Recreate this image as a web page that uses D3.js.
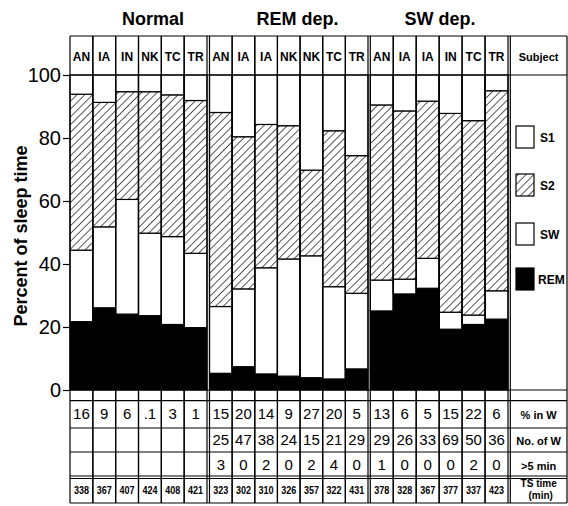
<!DOCTYPE html>
<html><head><meta charset="utf-8">
<script src="https://cdn.jsdelivr.net/npm/d3@7"></script>
<style>
body{margin:0;background:#fff}
svg{display:block}
text{font-family:"Liberation Sans",Arial,Helvetica,sans-serif;fill:#000}
</style>
</head><body>
<svg id="c" width="568" height="506"></svg>
<script>
// ---------------- data ----------------
const groups = ["Normal", "REM dep.", "SW dep."];
const subjectsNormal = ["AN","IA","IN","NK","TC","TR"];
const subjectsREM = ["AN","IA","IA","NK","NK","TC","TR"];
const subjectsSW = ["AN","IA","IA","IN","TC","TR"];
const stageKeys = ["REM","SW","S2","S1"];
const legendKeys = ["S1","S2","SW","REM"];
// percent of sleep time, column order: Normal(6), REM dep.(7), SW dep.(6)
const remValues = [21.7,26.1,24.1,23.6,20.8,19.8, 5.3,7.4,5.1,4.4,3.9,3.5,6.7, 25.1,30.5,32.3,19.3,20.8,22.5];
const swValues  = [22.7,25.7,36.4,26.2,27.9,23.6, 21.2,24.7,33.7,37.2,38.7,29.3,24.0, 9.8,4.7,9.5,5.4,3.0,9.0];
const s2Values  = [49.5,39.5,34.2,44.9,45.0,48.5, 61.6,48.3,45.5,42.3,27.2,49.5,43.7, 55.6,53.4,49.9,63.1,61.7,63.5];
const s1Values  = [6.1,8.7,5.3,5.3,6.3,8.1, 11.9,19.6,15.7,16.1,30.2,17.7,25.6, 9.5,11.4,8.3,12.2,14.5,5.0];
const pctInW  = ["16","9","6",".1","3","1", "15","20","14","9","27","20","5", "13","6","5","15","22","6"];
const noOfW   = ["","","","","","", "25","47","38","24","15","21","29", "29","26","33","69","50","36"];
const over5   = ["","","","","","", "3","0","2","0","2","4","0", "1","0","0","0","2","0"];
const tsTime  = ["338","367","407","424","408","421", "323","302","310","326","357","322","431", "378","328","367","377","337","423"];
const rowLabels = ["% in W","No. of W",">5 min"];
const yTicks = [0,20,40,60,80,100];
const yTitle = "Percent of sleep time";

// ---------------- layout ----------------
const svg = d3.select("#c");
const y = d3.scaleLinear().domain([0,100]).range([390,75]);
const sectionRanges = [[70,207],[209.5,368],[370.3,508]];
const legendRange = [510.3,567];
const titleX = [153,297.5,440];
const tableTop = 36, tableBottom = 503;
const rowLines = [400.7,428,452,476,478.5];
const rowBaselines = [419,445,469.5,494];

const sections = [subjectsNormal, subjectsREM, subjectsSW];
const columns = [];
sections.forEach((subs, g) => {
  const xb = d3.scaleBand().domain(d3.range(subs.length)).range(sectionRanges[g]).paddingInner(0).paddingOuter(0);
  subs.forEach((s, j) => {
    const i = columns.length;
    columns.push({i, group:g, subject:s, x0:xb(j), x1:xb(j)+xb.bandwidth(),
      REM:remValues[i], SW:swValues[i], S2:s2Values[i], S1:s1Values[i]});
  });
});

// hatch pattern
const defs = svg.append("defs");
defs.append("pattern").attr("id","hatch").attr("patternUnits","userSpaceOnUse")
  .attr("width",5.5).attr("height",10).attr("patternTransform","rotate(45)")
  .call(p => {
    p.append("rect").attr("width",5.5).attr("height",10).attr("fill","#fff");
    p.append("line").attr("x1",0).attr("y1",0).attr("x2",0).attr("y2",10)
      .attr("stroke","#000").attr("stroke-width",1.3);
  });
const fills = {REM:"#000", SW:"#fff", S2:"url(#hatch)", S1:"#fff"};

// stacked bars
const stacked = d3.stack().keys(stageKeys)(columns);
svg.append("g").selectAll("g").data(stacked).join("g")
  .attr("fill", d => fills[d.key])
  .selectAll("rect").data(d => d).join("rect")
  .attr("x", d => d.data.x0)
  .attr("width", d => d.data.x1 - d.data.x0)
  .attr("y", d => y(d[1]))
  .attr("height", d => y(d[0]) - y(d[1]))
  .attr("stroke","#000").attr("stroke-width",1.2);

// grid lines
const grid = svg.append("g").attr("stroke","#000").attr("stroke-width",1.2);
const vx = [];
columns.forEach(c => { vx.push(c.x0, c.x1); });
vx.push(legendRange[0], legendRange[1]);
grid.selectAll("line.v").data(vx).join("line").attr("class","v")
  .attr("x1",d=>d).attr("x2",d=>d).attr("y1",tableTop).attr("y2",tableBottom);
const hLines = [tableTop, y(100), y(0), ...rowLines, tableBottom];
grid.selectAll("line.h").data(hLines).join("line").attr("class","h")
  .attr("x1",70).attr("x2",legendRange[1]).attr("y1",d=>d).attr("y2",d=>d);

// y axis
const ax = svg.append("g").attr("transform","translate(70,0)")
  .call(d3.axisLeft(y).tickValues(yTicks).tickSize(7).tickPadding(2));
ax.select(".domain").remove();
ax.selectAll(".tick line").attr("stroke","#000").attr("stroke-width",1.2);
ax.selectAll(".tick text").attr("font-size",20).attr("font-family","Liberation Sans, Arial, sans-serif").attr("fill","#000");

svg.append("text").attr("transform","translate(27,236) rotate(-90)")
  .attr("text-anchor","middle").attr("font-size",18).attr("font-weight","bold").text(yTitle);

// group titles
svg.selectAll("text.title").data(groups).join("text").attr("class","title")
  .attr("x",(d,i)=>titleX[i]).attr("y",25).attr("text-anchor","middle")
  .attr("font-size",18).attr("font-weight","bold").text(d=>d);

// subject header
svg.selectAll("text.subj").data(columns).join("text").attr("class","subj")
  .attr("x",d=>(d.x0+d.x1)/2).attr("y",61).attr("text-anchor","middle")
  .attr("font-size",12).attr("font-weight","bold").text(d=>d.subject);
const lcx = (legendRange[0]+legendRange[1])/2;
svg.append("text").attr("x",lcx).attr("y",61).attr("text-anchor","middle")
  .attr("font-size",11).attr("font-weight","bold").text("Subject");

// legend
const legY = {S1:126, S2:174, SW:223, REM:268};
const lg = svg.append("g");
legendKeys.forEach(k => {
  lg.append("rect").attr("x",516).attr("y",legY[k]).attr("width",18).attr("height",22)
    .attr("fill",fills[k]).attr("stroke","#000").attr("stroke-width",1.2);
  lg.append("text").attr("x",k==="REM"?538:540).attr("y",legY[k]+15.5)
    .attr("font-size",12).attr("font-weight","bold").text(k);
});

// table rows
const rows = [pctInW, noOfW, over5];
rows.forEach((vals, r) => {
  svg.append("g").selectAll("text").data(columns).join("text")
    .attr("x",d=>(d.x0+d.x1)/2).attr("y",rowBaselines[r]).attr("text-anchor","middle")
    .attr("font-size",15).text(d=>vals[d.i]);
  svg.append("text").attr("x",lcx).attr("y",rowBaselines[r]).attr("text-anchor","middle")
    .attr("font-size",11).attr("font-weight","bold").text(rowLabels[r]);
});
svg.append("g").selectAll("text").data(columns).join("text")
  .attr("x",d=>(d.x0+d.x1)/2).attr("y",rowBaselines[3]).attr("text-anchor","middle")
  .attr("font-family","Liberation Serif, Times New Roman, serif").attr("font-weight","bold")
  .attr("font-size",11).attr("textLength",15).attr("lengthAdjust","spacingAndGlyphs")
  .text(d=>tsTime[d.i]);
svg.append("text").attr("x",lcx).attr("y",487).attr("text-anchor","middle")
  .attr("font-size",10).attr("font-weight","bold").text("TS time");
svg.append("text").attr("x",lcx+2).attr("y",499).attr("text-anchor","middle")
  .attr("font-size",10).attr("font-weight","bold").text("(min)");
</script>
</body></html>
